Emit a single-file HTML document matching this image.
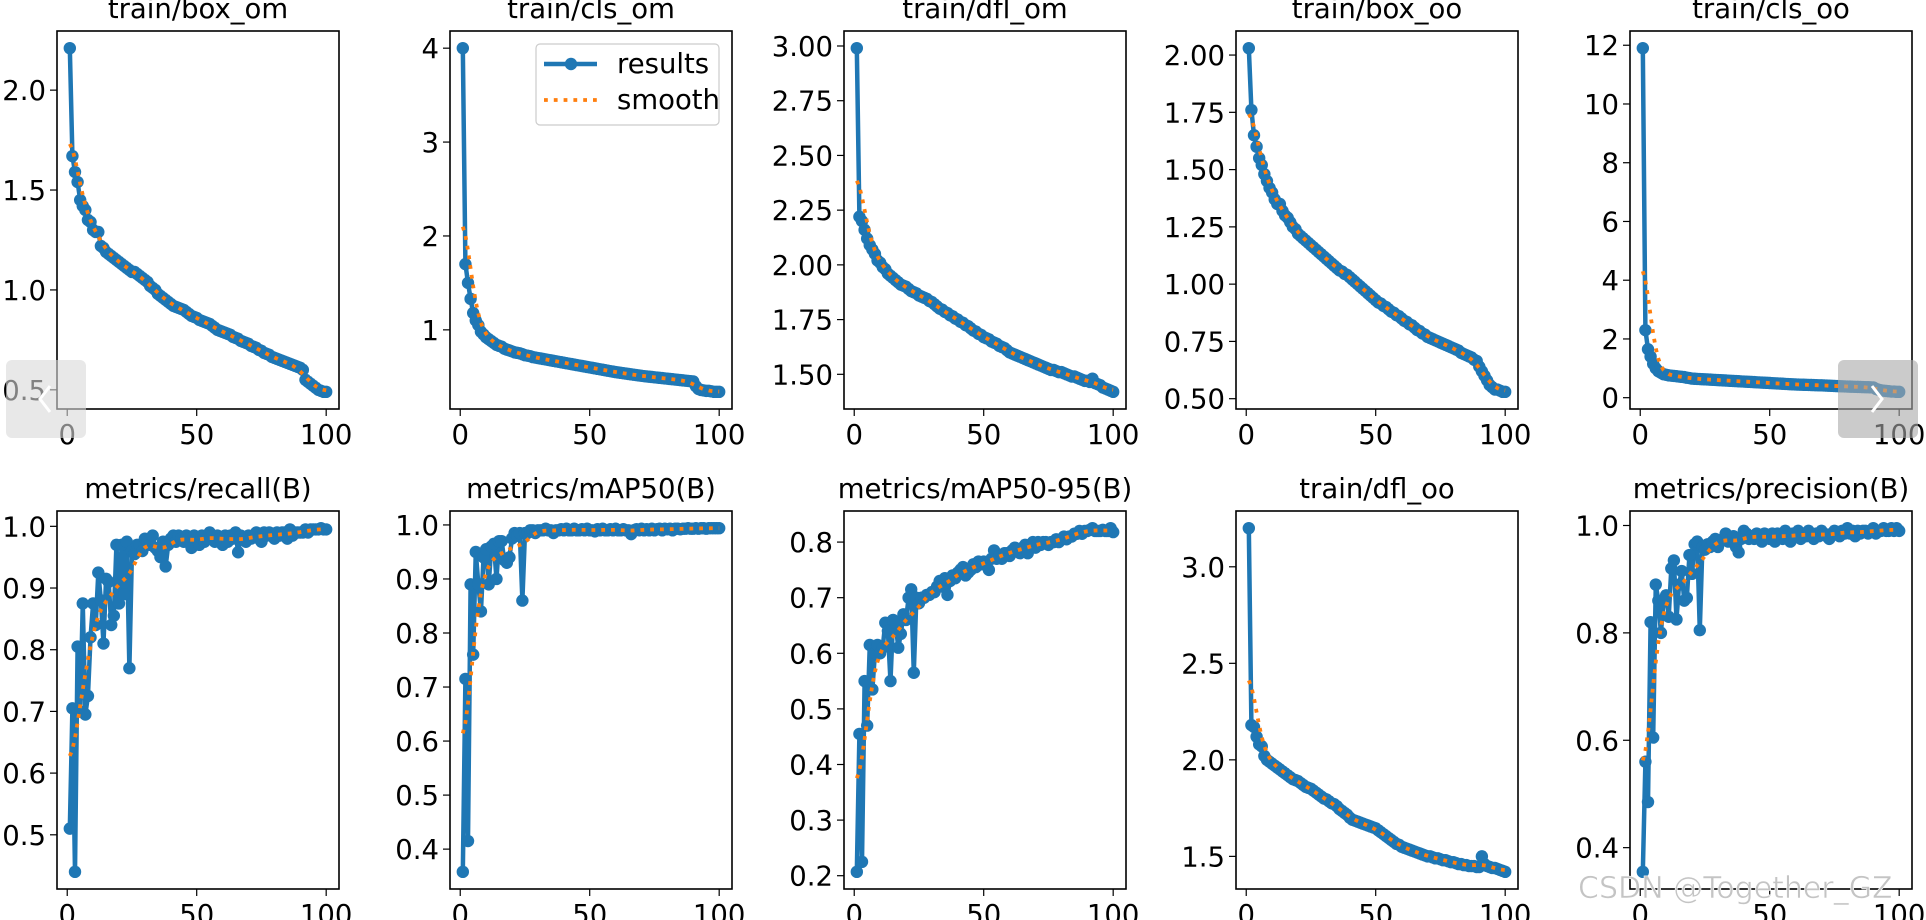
<!DOCTYPE html>
<html><head><meta charset="utf-8"><style>
html,body{margin:0;padding:0;background:#fff;}
svg{display:block;font-family:"DejaVu Sans","Liberation Sans",sans-serif;}
</style></head><body>
<svg id="fig" width="1926" height="920" viewBox="0 0 1926 920" xmlns="http://www.w3.org/2000/svg"></svg>
<script>
const titles = ["train/box_om","train/cls_om","train/dfl_om","train/box_oo","train/cls_oo","metrics/recall(B)","metrics/mAP50(B)","metrics/mAP50-95(B)","train/dfl_oo","metrics/precision(B)"];
const epochs = Array.from({length:100},(_,i)=>i+1);
const xTicks = [0,50,100];
const boxOm = [2.21,1.67,1.59,1.54,1.45,1.42,1.40,1.35,1.34,1.30,1.29,1.29,1.22,1.21,1.19,1.18,1.17,1.16,1.15,1.14,1.13,1.12,1.11,1.10,1.09,1.09,1.08,1.07,1.06,1.05,1.04,1.02,1.01,1.00,0.98,0.97,0.96,0.95,0.94,0.93,0.92,0.915,0.91,0.905,0.90,0.89,0.88,0.87,0.865,0.86,0.85,0.845,0.84,0.835,0.83,0.82,0.81,0.80,0.795,0.79,0.785,0.78,0.775,0.765,0.76,0.755,0.745,0.74,0.735,0.73,0.72,0.715,0.71,0.70,0.695,0.685,0.68,0.675,0.665,0.66,0.655,0.65,0.645,0.64,0.635,0.63,0.625,0.62,0.615,0.61,0.60,0.55,0.54,0.53,0.52,0.51,0.50,0.495,0.49,0.49];
const clsOm = [4.0,1.70,1.50,1.33,1.18,1.10,1.05,0.98,0.95,0.92,0.90,0.88,0.86,0.84,0.83,0.82,0.80,0.79,0.78,0.77,0.76,0.755,0.75,0.74,0.73,0.725,0.72,0.71,0.705,0.70,0.695,0.69,0.685,0.68,0.675,0.67,0.665,0.66,0.655,0.65,0.645,0.64,0.635,0.63,0.625,0.62,0.615,0.61,0.605,0.60,0.595,0.59,0.585,0.58,0.575,0.57,0.565,0.56,0.555,0.55,0.546,0.542,0.538,0.534,0.53,0.526,0.522,0.518,0.514,0.51,0.507,0.504,0.501,0.498,0.495,0.492,0.489,0.486,0.483,0.48,0.477,0.474,0.471,0.468,0.465,0.462,0.459,0.456,0.453,0.45,0.40,0.37,0.36,0.355,0.35,0.35,0.345,0.34,0.34,0.34];
const dflOm = [2.99,2.22,2.20,2.16,2.12,2.09,2.07,2.05,2.02,2.01,1.99,1.98,1.96,1.95,1.94,1.93,1.92,1.91,1.905,1.90,1.89,1.88,1.875,1.87,1.86,1.855,1.85,1.845,1.835,1.83,1.82,1.81,1.80,1.795,1.785,1.78,1.77,1.765,1.755,1.75,1.74,1.735,1.725,1.72,1.71,1.70,1.695,1.685,1.68,1.67,1.665,1.66,1.65,1.645,1.64,1.63,1.625,1.62,1.61,1.60,1.595,1.59,1.585,1.58,1.575,1.57,1.565,1.56,1.555,1.55,1.545,1.54,1.535,1.53,1.525,1.52,1.52,1.515,1.51,1.51,1.505,1.50,1.495,1.49,1.49,1.485,1.48,1.475,1.47,1.47,1.465,1.48,1.46,1.455,1.45,1.44,1.435,1.43,1.425,1.42];
const boxOo = [2.03,1.76,1.65,1.60,1.55,1.52,1.48,1.45,1.42,1.40,1.37,1.35,1.35,1.32,1.30,1.29,1.27,1.25,1.24,1.22,1.21,1.20,1.19,1.18,1.17,1.16,1.15,1.14,1.13,1.12,1.11,1.10,1.09,1.08,1.07,1.06,1.055,1.045,1.04,1.03,1.02,1.01,1.00,0.99,0.98,0.97,0.96,0.95,0.94,0.93,0.92,0.915,0.905,0.90,0.89,0.88,0.875,0.865,0.86,0.85,0.84,0.835,0.825,0.82,0.81,0.80,0.795,0.785,0.78,0.77,0.765,0.76,0.755,0.75,0.745,0.74,0.735,0.73,0.725,0.72,0.715,0.71,0.70,0.695,0.69,0.685,0.68,0.67,0.665,0.64,0.62,0.60,0.58,0.56,0.55,0.54,0.54,0.535,0.53,0.53];
const clsOo = [11.9,2.3,1.65,1.40,1.15,1.00,0.90,0.85,0.80,0.78,0.76,0.75,0.74,0.73,0.72,0.71,0.70,0.68,0.67,0.65,0.645,0.64,0.635,0.63,0.625,0.62,0.615,0.61,0.605,0.60,0.595,0.59,0.585,0.58,0.575,0.57,0.565,0.56,0.555,0.55,0.545,0.54,0.535,0.53,0.525,0.52,0.515,0.51,0.505,0.50,0.495,0.49,0.485,0.48,0.475,0.47,0.465,0.46,0.455,0.45,0.447,0.444,0.441,0.438,0.435,0.432,0.429,0.426,0.423,0.42,0.416,0.412,0.408,0.404,0.40,0.396,0.392,0.388,0.384,0.38,0.377,0.374,0.371,0.368,0.365,0.362,0.359,0.356,0.353,0.35,0.30,0.27,0.25,0.24,0.23,0.22,0.21,0.21,0.20,0.20];
const recall = [0.51,0.705,0.44,0.805,0.70,0.875,0.695,0.725,0.82,0.875,0.84,0.925,0.88,0.81,0.915,0.91,0.84,0.855,0.97,0.875,0.97,0.89,0.975,0.77,0.96,0.955,0.97,0.97,0.96,0.98,0.975,0.97,0.985,0.965,0.96,0.95,0.975,0.935,0.97,0.98,0.985,0.975,0.985,0.98,0.975,0.985,0.98,0.965,0.985,0.98,0.97,0.985,0.975,0.98,0.99,0.985,0.975,0.985,0.98,0.97,0.985,0.975,0.985,0.98,0.99,0.958,0.985,0.98,0.975,0.985,0.98,0.985,0.99,0.98,0.975,0.99,0.985,0.99,0.985,0.98,0.99,0.985,0.99,0.99,0.98,0.995,0.985,0.99,0.99,0.99,0.99,0.995,0.99,0.995,0.995,0.995,0.995,0.997,0.995,0.995];
const map50 = [0.358,0.715,0.415,0.89,0.76,0.95,0.89,0.84,0.94,0.955,0.89,0.96,0.965,0.90,0.97,0.97,0.935,0.93,0.94,0.975,0.985,0.98,0.985,0.86,0.985,0.985,0.99,0.99,0.985,0.99,0.99,0.99,0.993,0.99,0.99,0.985,0.99,0.99,0.992,0.99,0.993,0.99,0.99,0.993,0.99,0.99,0.992,0.99,0.993,0.99,0.99,0.988,0.992,0.99,0.993,0.99,0.99,0.992,0.99,0.993,0.99,0.99,0.992,0.99,0.99,0.983,0.99,0.992,0.99,0.993,0.99,0.992,0.99,0.993,0.99,0.992,0.993,0.99,0.993,0.992,0.993,0.99,0.993,0.993,0.992,0.993,0.993,0.994,0.993,0.993,0.994,0.993,0.994,0.994,0.993,0.994,0.994,0.994,0.994,0.994];
const map5095 = [0.207,0.455,0.225,0.55,0.47,0.615,0.535,0.60,0.615,0.60,0.61,0.655,0.64,0.55,0.66,0.655,0.61,0.635,0.67,0.66,0.70,0.715,0.565,0.70,0.69,0.70,0.70,0.705,0.705,0.71,0.71,0.72,0.73,0.72,0.735,0.705,0.73,0.74,0.735,0.745,0.75,0.755,0.74,0.745,0.75,0.76,0.755,0.765,0.76,0.765,0.76,0.75,0.77,0.785,0.77,0.775,0.77,0.78,0.78,0.775,0.785,0.79,0.785,0.78,0.79,0.795,0.78,0.795,0.80,0.79,0.80,0.795,0.80,0.80,0.795,0.80,0.80,0.805,0.80,0.805,0.81,0.805,0.81,0.81,0.815,0.815,0.82,0.815,0.82,0.82,0.822,0.825,0.82,0.82,0.82,0.822,0.82,0.82,0.825,0.818];
const dflOo = [3.20,2.18,2.17,2.12,2.08,2.07,2.02,2.00,1.99,1.98,1.97,1.96,1.95,1.94,1.93,1.92,1.91,1.90,1.895,1.89,1.88,1.87,1.86,1.855,1.85,1.84,1.83,1.82,1.81,1.80,1.795,1.785,1.775,1.77,1.76,1.745,1.735,1.725,1.715,1.70,1.69,1.685,1.68,1.675,1.67,1.665,1.66,1.655,1.65,1.645,1.635,1.625,1.615,1.605,1.595,1.585,1.575,1.565,1.56,1.55,1.545,1.54,1.535,1.53,1.525,1.52,1.515,1.51,1.505,1.50,1.50,1.495,1.49,1.49,1.485,1.48,1.48,1.475,1.47,1.47,1.465,1.46,1.46,1.455,1.455,1.45,1.45,1.45,1.445,1.445,1.50,1.46,1.45,1.445,1.44,1.44,1.435,1.43,1.425,1.42];
const precision = [0.355,0.56,0.485,0.82,0.605,0.89,0.86,0.80,0.86,0.87,0.83,0.92,0.935,0.825,0.89,0.915,0.86,0.865,0.945,0.91,0.965,0.97,0.805,0.96,0.955,0.965,0.96,0.97,0.975,0.96,0.97,0.975,0.985,0.97,0.975,0.98,0.96,0.95,0.975,0.99,0.985,0.975,0.98,0.975,0.985,0.98,0.97,0.985,0.98,0.975,0.985,0.97,0.985,0.98,0.975,0.99,0.98,0.97,0.985,0.98,0.99,0.975,0.985,0.98,0.99,0.985,0.975,0.985,0.98,0.99,0.985,0.98,0.975,0.985,0.99,0.985,0.98,0.99,0.985,0.995,0.985,0.99,0.98,0.99,0.985,0.99,0.99,0.985,0.99,0.995,0.985,0.99,0.99,0.995,0.99,0.99,0.995,0.99,0.995,0.99];
const yTicksList = [[0.5,1.0,1.5,2.0],[1,2,3,4],[1.5,1.75,2.0,2.25,2.5,2.75,3.0],[0.5,0.75,1.0,1.25,1.5,1.75,2.0],[0,2,4,6,8,10,12],[0.5,0.6,0.7,0.8,0.9,1.0],[0.4,0.5,0.6,0.7,0.8,0.9,1.0],[0.2,0.3,0.4,0.5,0.6,0.7,0.8],[1.5,2.0,2.5,3.0],[0.4,0.6,0.8,1.0]];
const yDecimals = [1,0,2,2,0,1,1,1,1,1];
const seriesList = [boxOm,clsOm,dflOm,boxOo,clsOo,recall,map50,map5095,dflOo,precision];

const NS="http://www.w3.org/2000/svg";
const svg=document.getElementById('fig');
function mk(tag,attrs,parent){const e=document.createElementNS(NS,tag);for(const k in attrs)e.setAttribute(k,attrs[k]);(parent||svg).appendChild(e);return e;}
function smooth(y,s){const r=Math.ceil(4*s);const w=[];let sum=0;for(let k=-r;k<=r;k++){const v=Math.exp(-k*k/(2*s*s));w.push(v);sum+=v;}
 const n=y.length;const out=[];for(let i=0;i<n;i++){let a=0;for(let k=-r;k<=r;k++){let j=i+k;while(j<0||j>=n){if(j<0)j=-j-1;if(j>=n)j=2*n-j-1;}a+=w[k+r]*y[j];}out.push(a/sum);}return out;}
const lefts=[57,450,844,1236,1630], W=282;
const tops=[31,511], H=378;
const BLUE="#1f77b4", ORANGE="#ff7f0e";
const FS=27.5;
seriesList.forEach((ys,p)=>{
  const row=Math.floor(p/5), col=p%5;
  const L=lefts[col], T=tops[row];
  const g=mk('g',{});
  
  
  const xmin=1-0.05*99, xmax=100+0.05*99;
  let lo=Math.min(...ys), hi=Math.max(...ys); const m=(hi-lo)*0.05; lo-=m; hi+=m;
  const sx=v=>L+(v-xmin)/(xmax-xmin)*W;
  const sy=v=>T+H-(v-lo)/(hi-lo)*H;
  const t=mk('text',{x:L+W/2,y:T-13,'text-anchor':'middle','font-size':FS,fill:'#000'},g);
  t.textContent=titles[p];
  
  
  xTicks.forEach(v=>{const x=sx(v);mk('line',{x1:x,x2:x,y1:T+H,y2:T+H+7,stroke:'#000','stroke-width':1.2},g);
    const tx=mk('text',{x:x,y:T+H+35,'text-anchor':'middle','font-size':FS},g);tx.textContent=String(v);
    
    });
  yTicksList[p].forEach(v=>{const y=sy(v);mk('line',{x1:L-7,x2:L,y1:y,y2:y,stroke:'#000','stroke-width':1.2},g);
    const ty=mk('text',{x:L-11,y:y+10,'text-anchor':'end','font-size':FS},g);ty.textContent=v.toFixed(yDecimals[p]);
    
    });
  const pts=ys.map((v,i)=>sx(epochs[i]).toFixed(2)+','+sy(v).toFixed(2)).join(' ');
  const line=mk('polyline',{points:pts,fill:'none',stroke:BLUE,'stroke-width':4.5,'stroke-linejoin':'round'},g);
  
  
  ys.forEach((v,i)=>{const c=mk('circle',{cx:sx(epochs[i]),cy:sy(v),r:6.2,fill:BLUE},g);
    
    });
  const sm=smooth(ys,3);
  const sp=sm.map((v,i)=>sx(epochs[i]).toFixed(2)+','+sy(v).toFixed(2)).join(' ');
  const sl=mk('polyline',{points:sp,fill:'none',stroke:ORANGE,'stroke-width':3.8,'stroke-dasharray':'3.8 6'},g);
  
  
  const fr=mk('rect',{x:L,y:T,width:W,height:H,fill:'none',stroke:'#000','stroke-width':1.6},g);
  
  
});
const lg=mk('g',{});


mk('rect',{x:536,y:44,width:183,height:81,rx:4,fill:'#fff','fill-opacity':0.8,stroke:'#ccc','stroke-width':1.2},lg);
mk('line',{x1:544,x2:597,y1:64,y2:64,stroke:BLUE,'stroke-width':4.5},lg);
mk('circle',{cx:571,cy:64,r:6.2,fill:BLUE},lg);
mk('line',{x1:544,x2:597,y1:100,y2:100,stroke:ORANGE,'stroke-width':3.8,'stroke-dasharray':'3.8 6'},lg);
const l1=mk('text',{x:617,y:73,'font-size':FS},lg);l1.textContent='results';


const l2=mk('text',{x:617,y:109,'font-size':FS},lg);l2.textContent='smooth';


const pa=mk('g',{});


mk('rect',{x:6,y:360,width:80,height:78,rx:6,fill:'#d8d8d8','fill-opacity':0.6},pa);
mk('polyline',{points:'50,386 40,399 50,412',fill:'none',stroke:'#fff','stroke-width':3},pa);
const na=mk('g',{});


mk('rect',{x:1838,y:360,width:80,height:78,rx:6,fill:'#a8a8a8','fill-opacity':0.6},na);
mk('polyline',{points:'1872,386 1882,399 1872,412',fill:'none',stroke:'#fff','stroke-width':3},na);
const wm=mk('text',{x:1578,y:898,'font-size':30,fill:'#c4c4c4',stroke:'#fff','stroke-width':0.6,'font-family':'DejaVu Sans'});
wm.textContent='CSDN @Together_GZ';


</script>
</body></html>
